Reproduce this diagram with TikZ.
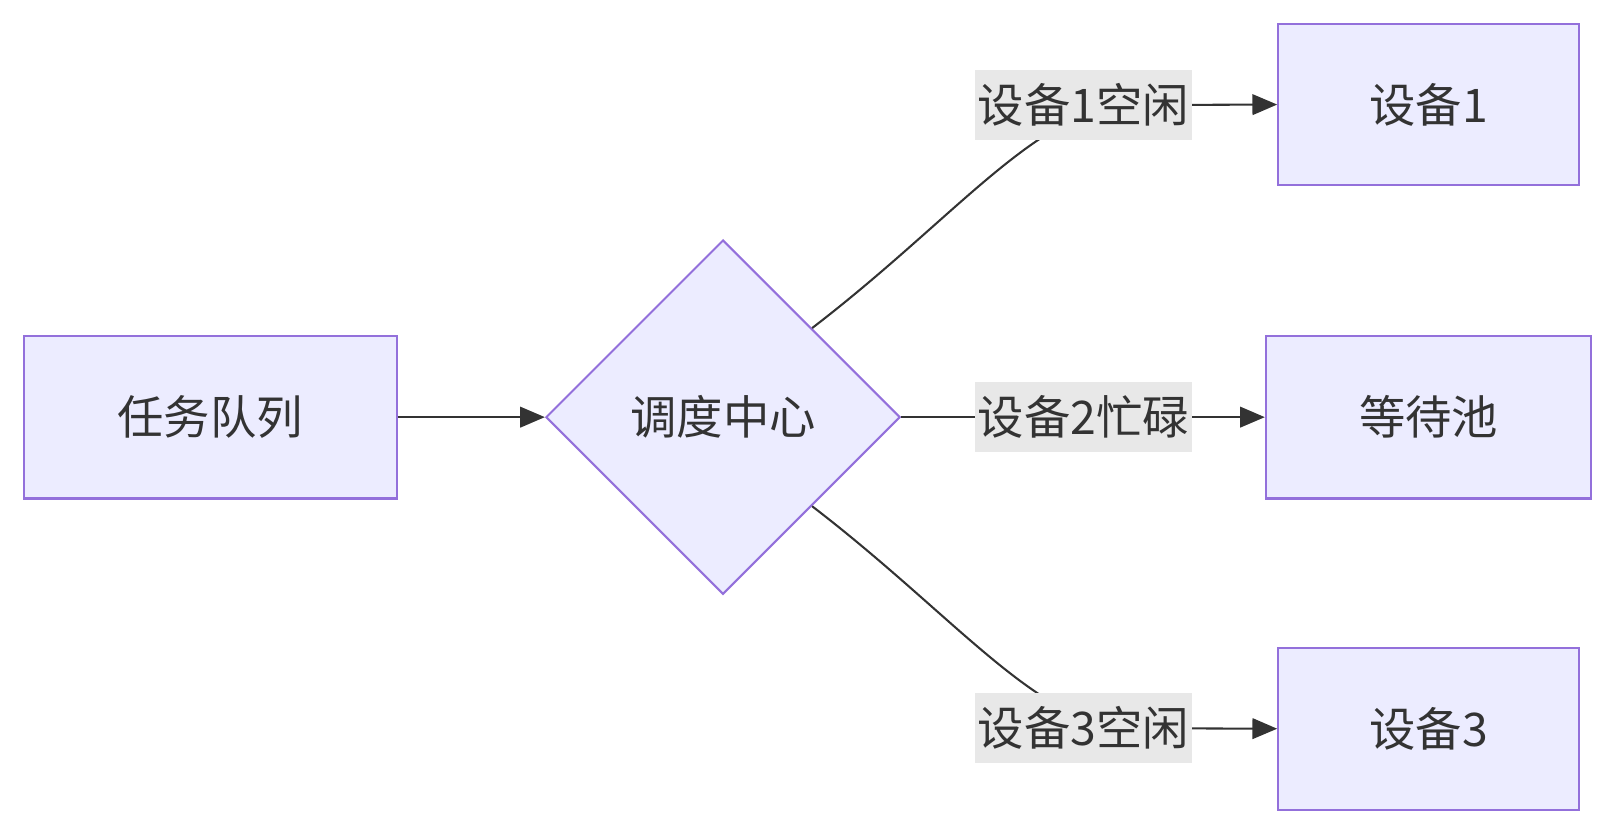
\documentclass[tikz,border=0pt]{standalone}
\usepackage{fontspec}
\setmainfont{Noto Sans CJK SC}
\usetikzlibrary{shapes.geometric,arrows.meta}
\definecolor{boxfill}{HTML}{ECECFF}
\definecolor{boxline}{HTML}{9370DB}
\definecolor{edgecol}{HTML}{333333}
\definecolor{labfill}{HTML}{E8E8E8}
\begin{document}
\begin{tikzpicture}[x=0.5pt,y=-0.5pt]
	\tikzset{
		procbox/.style={draw=boxline,fill=boxfill,line width=1pt,inner sep=0pt,text=edgecol,font=\fontsize{22.5}{26}\selectfont},
		edgelab/.style={fill=labfill,inner sep=0pt,text=edgecol,minimum width=105pt,minimum height=34pt,font=\fontsize{22.5}{26}\selectfont},
		flow/.style={draw=edgecol,line width=1pt,-{Triangle[length=12pt,width=10pt]}}
	}
	\useasboundingbox (0,0) rectangle (1568,810);
	\node[procbox,minimum width=181pt,minimum height=79pt] (queue) at (204,405) {任务队列};
	\node[procbox,diamond,minimum width=172pt,minimum height=172pt,aspect=1] (disp) at (702,405) {调度中心};
	\node[procbox,minimum width=146pt,minimum height=78.5pt] (dev1) at (1387,101.5) {设备1};
	\node[procbox,minimum width=158pt,minimum height=79pt] (pool) at (1387,405) {等待池};
	\node[procbox,minimum width=146pt,minimum height=78.5pt] (dev3) at (1387,707.5) {设备3};
	\draw[flow] (queue.east) -- (disp.west);
	\draw[flow] (disp.north east) .. controls (930,210) and (1010,102) .. (1100,102) -- (dev1.west);
	\draw[flow] (disp.east) -- (pool.west);
	\draw[flow] (disp.south east) .. controls (930,600) and (1010,707) .. (1100,707) -- (dev3.west);
	\node[edgelab] (lab1) at (1052,102) {设备1空闲};
	\node[edgelab] (lab2) at (1052,405) {设备2忙碌};
	\node[edgelab] (lab3) at (1052,707) {设备3空闲};
\end{tikzpicture}
\end{document}
